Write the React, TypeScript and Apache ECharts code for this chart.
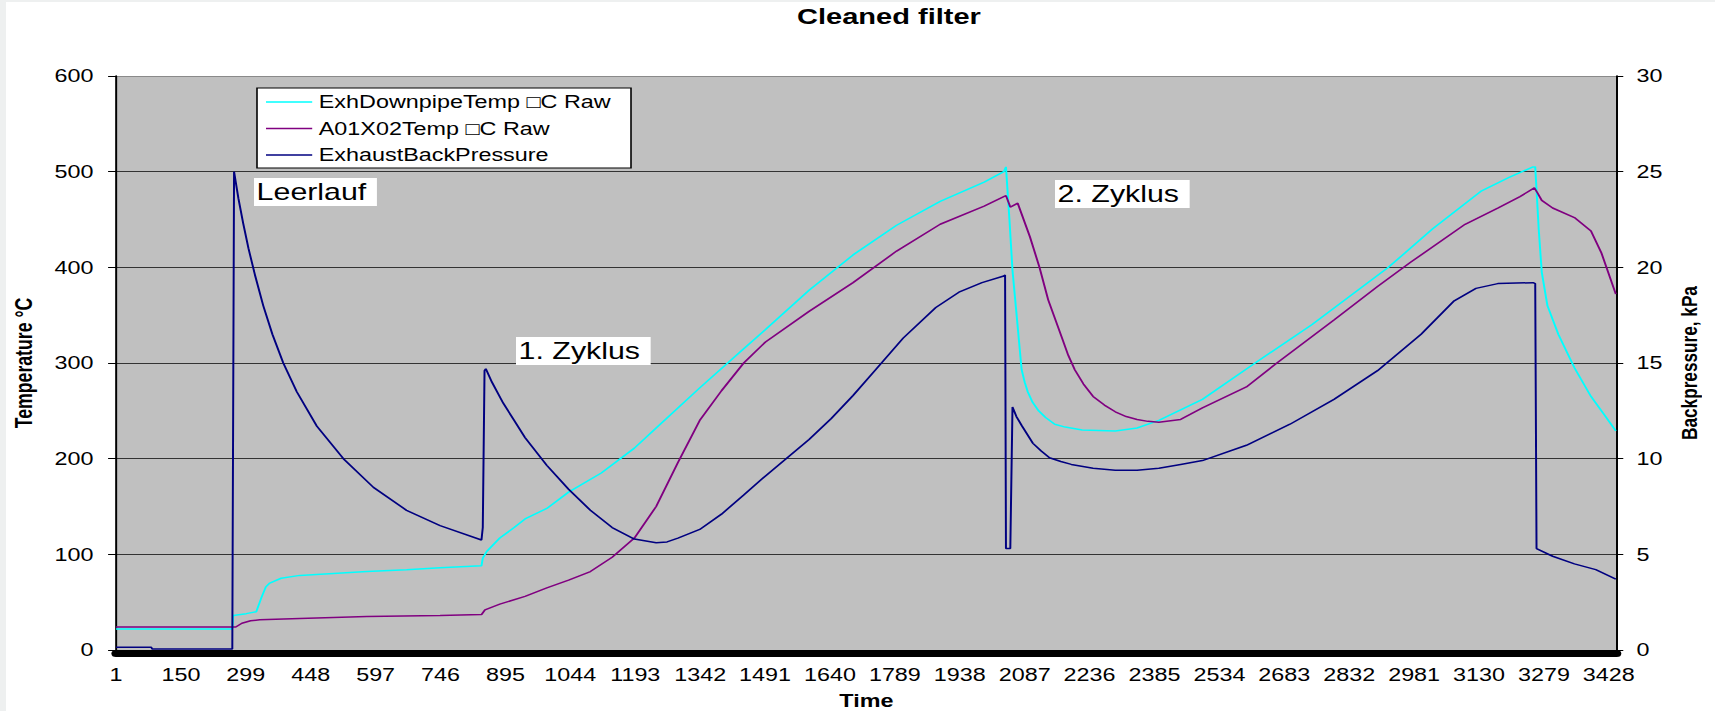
import React, { useEffect, useRef } from "react";
import * as echarts from "echarts";

// horizontal stretch of the original picture
const S = 1.32;
const PAGE_W = 1715;
const PAGE_H = 711;
const FONT = "Liberation Sans, Arial, sans-serif";

const seriesNames = ["ExhDownpipeTemp \u25A1C Raw", "A01X02Temp \u25A1C Raw", "ExhaustBackPressure"];

const xTickStep = 149;
const xLastIndex = 3445;

const exhTime = [1, 268, 270, 300, 323, 335, 345, 354, 380, 423, 500, 577, 668, 745, 840, 843, 852, 882, 915, 940, 990, 1040, 1115, 1191, 1241, 1341, 1442, 1492, 1592, 1693, 1793, 1893, 1994, 2039, 2044, 2052, 2059, 2080, 2087, 2094, 2105, 2119, 2135, 2156, 2180, 2219, 2295, 2345, 2395, 2495, 2616, 2746, 2922, 3023, 3136, 3199, 3254, 3259, 3267, 3274, 3287, 3312, 3349, 3387, 3419, 3444];
const exhTemp = [22, 22, 36, 38, 40, 55, 66, 70, 75, 78, 80, 82, 84, 86, 88, 96, 103, 117, 128, 137, 148, 165, 185, 211, 232, 274, 315, 335, 376, 413, 444, 469, 489, 500, 505, 450, 397, 293, 280, 270, 259, 250, 243, 236, 233, 230, 229, 232, 240, 262, 300, 340, 400, 440, 480, 494, 505, 505, 440, 395, 360, 330, 295, 265, 245, 229];

const a01Time = [1, 276, 290, 310, 331, 423, 577, 745, 840, 848, 882, 940, 990, 1040, 1090, 1140, 1191, 1241, 1291, 1341, 1391, 1442, 1492, 1592, 1693, 1793, 1893, 1994, 2039, 2044, 2054, 2071, 2099, 2121, 2141, 2172, 2187, 2202, 2222, 2244, 2270, 2295, 2320, 2345, 2370, 2395, 2445, 2495, 2596, 2666, 2797, 2897, 2972, 3098, 3173, 3224, 3257, 3264, 3274, 3299, 3349, 3387, 3411, 3444];
const a01Temp = [24, 24, 28, 30.5, 31.5, 33, 35, 36, 37, 42, 48, 56, 65, 73, 82, 97, 117, 150, 196, 240, 271, 300, 322, 354, 384, 417, 445, 464, 474, 475, 463, 467, 432, 400, 366, 327, 308, 293, 278, 265, 256, 249, 244, 241, 239, 238, 241, 253, 275, 300, 345, 380, 405, 445, 462, 474, 483, 478, 470, 462, 452, 438, 415, 372];

const bpTime = [1, 82, 84, 268, 269, 271, 272, 282, 293, 305, 320, 339, 360, 385, 416, 462, 523, 592, 668, 745, 840, 843, 847, 850, 864, 890, 915, 940, 990, 1040, 1090, 1140, 1191, 1241, 1266, 1291, 1341, 1391, 1442, 1492, 1592, 1643, 1693, 1743, 1808, 1883, 1936, 1989, 2039, 2042, 2044, 2054, 2059, 2068, 2081, 2106, 2125, 2144, 2170, 2194, 2244, 2295, 2345, 2395, 2445, 2495, 2596, 2696, 2797, 2897, 2997, 3073, 3123, 3173, 3254, 3259, 3262, 3299, 3349, 3398, 3444];
const bpKpa = [0.15, 0.15, 0.05, 0.05, 6.6, 6.6, 25.0, 23.6, 22.3, 21.0, 19.6, 18.0, 16.5, 15.0, 13.5, 11.7, 10.0, 8.5, 7.3, 6.5, 5.75, 6.4, 14.6, 14.7, 14.0, 12.9, 12.0, 11.1, 9.65, 8.4, 7.3, 6.4, 5.8, 5.6, 5.65, 5.85, 6.3, 7.1, 8.1, 9.1, 11.0, 12.1, 13.3, 14.6, 16.3, 17.9, 18.7, 19.2, 19.55, 19.6, 5.3, 5.3, 12.7, 12.2, 11.7, 10.8, 10.4, 10.05, 9.85, 9.7, 9.5, 9.4, 9.4, 9.5, 9.7, 9.9, 10.7, 11.8, 13.1, 14.6, 16.5, 18.25, 18.9, 19.15, 19.2, 19.15, 5.3, 4.9, 4.5, 4.2, 3.7];

const annotations = [
  { text: "Leerlauf", x: 254, y: 178 },
  { text: "1. Zyklus", x: 516, y: 337 },
  { text: "2. Zyklus", x: 1055, y: 180 },
];

const toPairs = (t: number[], v: number[]) => t.map((ti, i) => [ti - 1, v[i]]);

export default function App() {
  const ref = useRef<HTMLDivElement>(null);

  useEffect(() => {
    if (!ref.current) return;
    const chart = echarts.init(ref.current, undefined, { renderer: "svg" });
    const gridColors = ["#333", "#333", "#333", "#333", "#333", "#333", "#8a8a8a"];
    const lineSeries = (idx: number, axis: number, color: string, t: number[], v: number[]) => ({
      name: seriesNames[idx],
      type: "line",
      yAxisIndex: axis,
      symbol: "none",
      z: 2,
      lineStyle: { color, width: 1.5 },
      itemStyle: { color },
      data: toPairs(t, v),
    });
    const option: any = {
      animation: false,
      textStyle: { fontFamily: FONT },
      title: {
        text: "Cleaned filter",
        left: 797 / S,
        top: 5,
        padding: 0,
        textStyle: { fontSize: 22, fontWeight: "bold", color: "#000", fontFamily: FONT },
      },
      legend: {
        orient: "vertical",
        left: 266 / S,
        top: 93,
        padding: 0,
        itemGap: 8.5,
        itemWidth: 35,
        itemHeight: 1.5,
        icon: "rect",
        z: 4,
        textStyle: { fontSize: 17.7, color: "#000", fontFamily: FONT },
        data: seriesNames,
      },
      grid: {
        left: 116 / S,
        right: (PAGE_W - 1617) / S,
        top: 76,
        bottom: PAGE_H - 650,
        containLabel: false,
        outerBoundsMode: "none",
        show: true,
        backgroundColor: "#C0C0C0",
        borderWidth: 0,
      },
      xAxis: {
        type: "value",
        min: 0,
        max: xLastIndex,
        interval: xTickStep,
        offset: 3,
        name: "Time",
        nameLocation: "middle",
        nameGap: 39,
        nameTextStyle: { fontSize: 17.7, fontWeight: "bold", color: "#000", fontFamily: FONT },
        axisLine: { onZero: false, lineStyle: { color: "#000", width: 7 } },
        axisTick: { show: false },
        splitLine: { show: false },
        axisLabel: {
          margin: 13,
          fontSize: 17.7,
          color: "#000",
          showMaxLabel: false,
          formatter: (v: number) => String(v + 1),
        },
      },
      yAxis: [
        {
          type: "value",
          position: "left",
          min: 0,
          max: 600,
          interval: 100,
          name: "Temperature \u00B0C",
          nameLocation: "middle",
          nameRotate: 90,
          nameGap: 61,
          nameTextStyle: { fontSize: 17.7, fontWeight: "bold", color: "#000", fontFamily: FONT },
          axisLine: { show: true, lineStyle: { color: "#000", width: 1.5 } },
          axisTick: { show: true, length: 6, lineStyle: { color: "#000" } },
          axisLabel: { margin: 17, fontSize: 17.7, color: "#000" },
          splitLine: { show: true, lineStyle: { color: gridColors, width: 1.2 } },
        },
        {
          type: "value",
          position: "right",
          min: 0,
          max: 30,
          interval: 5,
          name: "Backpressure, kPa",
          nameLocation: "middle",
          nameRotate: 90,
          nameGap: 46,
          nameTextStyle: { fontSize: 17.2, fontWeight: "bold", color: "#000", fontFamily: FONT },
          axisLine: { show: true, lineStyle: { color: "#000", width: 1.5 } },
          axisTick: { show: true, length: 5, lineStyle: { color: "#000" } },
          axisLabel: { margin: 15, fontSize: 17.7, color: "#000" },
          splitLine: { show: false },
        },
      ],
      graphic: [
        {
          type: "rect",
          z: 3,
          shape: { x: 257 / S, y: 88, width: 374 / S, height: 80 },
          style: { fill: "#fff", stroke: "#000", lineWidth: 1.2 },
        },
        ...annotations.map((a) => ({
          type: "text",
          z: 5,
          x: a.x / S,
          y: a.y,
          style: {
            text: a.text,
            fontSize: 23,
            fontFamily: FONT,
            fill: "#000",
            backgroundColor: "#fff",
            padding: [3, 8, 2, 2],
          },
        })),
      ],
      series: [
        lineSeries(0, 0, "#00FFFF", exhTime, exhTemp),
        lineSeries(1, 0, "#800080", a01Time, a01Temp),
        lineSeries(2, 1, "#000080", bpTime, bpKpa),
      ],
    };
    chart.setOption(option);
    return () => chart.dispose();
  }, []);

  return (
    <div
      style={{
        position: "fixed",
        left: 0,
        top: 0,
        width: PAGE_W,
        height: PAGE_H,
        background: "#eef0f0",
        overflow: "hidden",
      }}
    >
      <div style={{ position: "absolute", left: 6, top: 2, right: 0, bottom: 0, background: "#fff" }} />
      <div
        ref={ref}
        style={{
          position: "absolute",
          left: 0,
          top: 0,
          width: PAGE_W / S,
          height: PAGE_H,
          transform: `scaleX(${S})`,
          transformOrigin: "0 0",
        }}
      />
    </div>
  );
}
